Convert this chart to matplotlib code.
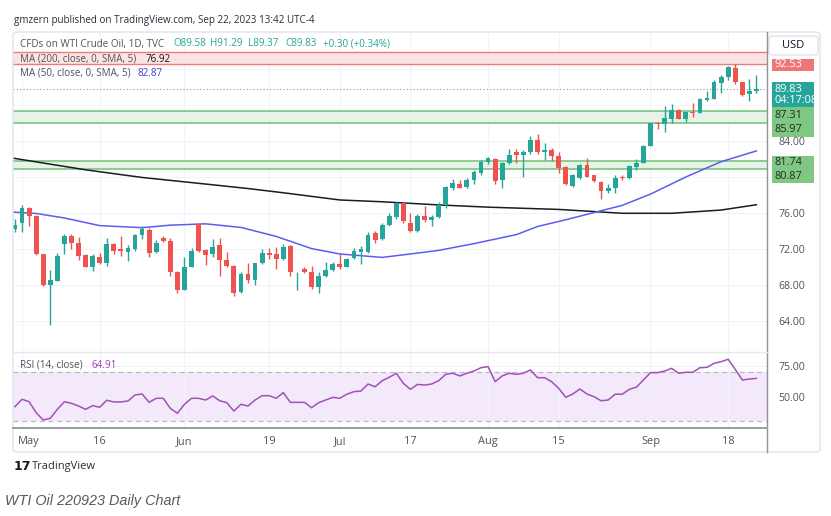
import numpy as np
import matplotlib.pyplot as plt
import matplotlib.transforms as mtransforms
from matplotlib.lines import Line2D
from matplotlib.patches import FancyBboxPatch, Rectangle

plt.rcParams['font.family'] = ['Open Sans', 'DejaVu Sans']

# daily candles, Apr 28 .. Sep 22 2023
opens = [74.22, 74.85, 76.6, 75.7, 71.4, 68.0, 68.5, 72.6, 73.45, 72.7,
         71.3, 70.0, 71.15, 70.5, 72.6, 71.95, 71.7, 72.0, 73.55, 74.1,
         71.7, 73.2, 72.9, 69.5, 67.45, 70.0, 74.8, 71.9, 71.4, 72.4,
         70.8, 70.15, 67.25, 69.2, 68.55, 70.4, 71.55, 71.4, 70.85, 72.35,
         69.4, 69.75, 69.4, 67.8, 69.05, 69.7, 70.3, 70.0, 70.95, 71.7,
         71.7, 73.75, 73.1, 74.7, 75.6, 77.1, 74.85, 74.0, 75.7, 75.2,
         75.6, 76.9, 78.75, 79.2, 78.85, 79.67, 80.5, 81.7, 81.97, 79.67,
         81.6, 82.75, 82.45, 82.75, 84.1, 82.75, 83.0, 82.35, 81.15, 79.0,
         79.85, 81.3, 80.2, 79.5, 78.45, 78.75, 80.05, 79.85, 81.15, 81.6,
         83.45, 86.05, 85.85, 86.5, 87.45, 86.5, 87.25, 87.15, 88.55, 88.67,
         90.4, 91.1, 92.1, 90.5, 89.2, 89.58]
highs = [75.3, 76.9, 76.7, 75.8, 71.5, 69.7, 71.6, 73.7, 73.7, 73.3,
         71.5, 71.5, 71.6, 73.2, 72.7, 73.4, 72.4, 73.7, 74.6, 74.3,
         73.0, 73.4, 73.2, 69.55, 71.1, 72.1, 74.9, 72.0, 73.1, 73.2,
         71.7, 70.2, 69.5, 70.4, 70.5, 72.0, 72.1, 72.25, 72.55, 72.45,
         69.5, 70.0, 70.1, 69.5, 70.6, 70.6, 71.5, 70.95, 72.1, 72.3,
         73.9, 74.05, 74.85, 75.95, 77.25, 77.25, 75.95, 75.85, 76.8, 75.8,
         77.25, 79.0, 79.75, 79.65, 79.85, 80.8, 81.9, 82.2, 82.1, 81.7,
         83.1, 83.1, 83.0, 84.6, 84.8, 83.75, 83.2, 82.8, 81.2, 80.3,
         81.45, 82.1, 80.2, 79.6, 79.2, 80.2, 80.2, 81.3, 82.0, 83.55,
         86.0, 86.15, 87.9, 88.1, 87.6, 87.25, 88.2, 88.75, 89.5, 90.8,
         91.35, 92.35, 92.55, 90.6, 90.85, 91.29]
lows = [73.9, 73.9, 74.55, 71.3, 67.9, 63.6, 68.45, 71.4, 72.0, 70.8,
        70.0, 69.6, 70.3, 70.1, 71.4, 71.2, 70.7, 71.8, 73.1, 71.1,
        71.6, 72.8, 69.0, 67.1, 67.4, 69.96, 71.7, 70.2, 71.15, 69.0,
        70.0, 66.8, 67.15, 68.2, 68.0, 70.3, 70.85, 69.75, 70.8, 69.0,
        67.4, 69.3, 67.6, 67.15, 68.9, 69.6, 69.75, 69.95, 70.85, 70.3,
        71.6, 72.7, 73.0, 74.55, 75.3, 74.85, 73.9, 73.9, 75.0, 74.55,
        75.5, 76.6, 78.55, 78.75, 78.75, 79.2, 80.2, 81.5, 79.2, 78.75,
        81.5, 81.6, 80.0, 82.6, 82.6, 81.9, 81.8, 80.4, 79.1, 78.9,
        79.75, 79.97, 79.5, 77.6, 78.2, 78.2, 79.65, 79.75, 80.8, 81.55,
        83.4, 85.3, 85.0, 85.95, 86.4, 86.1, 86.7, 87.1, 88.5, 88.65,
        89.3, 90.8, 90.35, 89.0, 88.4, 89.37]
closes = [74.67, 76.6, 75.7, 71.4, 68.0, 68.55, 71.2, 73.5, 72.7, 71.2,
          70.0, 71.2, 70.4, 72.6, 71.8, 71.75, 72.1, 73.6, 74.2, 71.6,
          72.7, 72.9, 69.4, 67.4, 70.0, 71.8, 71.8, 71.3, 72.25, 70.8,
          70.15, 67.15, 69.2, 68.55, 70.4, 71.6, 71.35, 70.85, 72.25, 69.4,
          69.45, 69.4, 67.8, 69.0, 69.7, 70.3, 69.95, 70.85, 71.8, 71.95,
          73.55, 73.0, 74.7, 75.7, 77.15, 75.15, 74.0, 75.7, 75.2, 75.6,
          76.9, 78.85, 79.3, 78.8, 79.67, 80.55, 81.7, 82.1, 79.55, 81.6,
          82.5, 82.45, 82.75, 84.1, 82.75, 83.0, 82.35, 80.95, 79.2, 80.2,
          81.3, 80.05, 79.55, 78.45, 78.75, 79.85, 79.85, 81.2, 81.6, 83.5,
          85.95, 85.85, 86.6, 87.5, 86.5, 87.2, 87.15, 88.65, 88.8, 90.6,
          91.15, 92.2, 90.5, 89.1, 89.5, 89.83]

rsi = [41.9, 47.9, 45.9, 37.0, 31.0, 32.4, 39.7, 45.9, 44.6, 42.4,
       39.7, 42.7, 41.4, 47.1, 45.7, 45.7, 46.5, 51.4, 52.2, 45.4,
       48.7, 48.7, 40.5, 36.5, 43.8, 48.7, 48.7, 47.3, 50.6, 46.7,
       45.1, 38.3, 43.8, 42.4, 47.3, 50.8, 50.8, 48.7, 53.3, 45.4,
       45.4, 45.4, 41.0, 45.1, 47.3, 49.5, 48.7, 52.0, 54.1, 54.6,
       60.3, 58.1, 63.0, 65.8, 69.1, 60.9, 56.0, 60.0, 59.5, 60.3,
       63.0, 68.2, 69.1, 66.9, 69.1, 70.9, 73.6, 74.5, 62.2, 66.9,
       69.1, 68.2, 69.1, 71.8, 65.5, 65.5, 62.2, 56.8, 49.5, 52.2,
       56.3, 52.2, 50.0, 46.7, 47.3, 52.0, 52.0, 56.0, 57.7, 63.6,
       69.6, 69.6, 70.9, 73.1, 69.1, 69.9, 69.9, 73.6, 73.9, 77.2,
       78.5, 80.5, 72.3, 63.6, 64.4, 64.91]

# moving averages, sampled at bar positions
ma200_pos = [-0.3, 10, 18, 26, 33, 38, 46, 52, 60, 67, 77, 86, 93, 100, 105]
ma200 = [82.1, 80.8, 79.95, 79.3, 78.72, 78.25, 77.45, 77.25, 76.9, 76.65,
         76.4, 75.97, 75.97, 76.33, 76.92]
ma50_pos = [-0.3, 3, 7, 12, 18, 22, 27, 32, 37, 42, 46, 52, 56, 60, 65, 71,
            74, 78, 86, 90, 95, 100, 105]
ma50 = [76.1, 75.95, 75.45, 74.6, 74.37, 74.65, 74.8, 74.4, 73.4, 72.05,
        71.45, 71.07, 71.45, 71.85, 72.6, 73.6, 74.5, 75.25, 76.85, 78.1,
        80.0, 81.7, 82.9]

date_pos = [1, 12, 24, 36, 46, 56, 67, 77, 90, 101]
date_labels = ['May', '16', 'Jun', '19', 'Jul', '17', 'Aug', '15', 'Sep', '18']
price_ticks = [64, 68, 72, 76, 80, 84, 88, 92]
price_labels = ['64.00', '68.00', '72.00', '76.00', '', '84.00', '', '']
green_zones = [(80.87, 81.74), (85.97, 87.31)]
red_zone = (92.53, 93.92)
last_close = 89.83

UP, DOWN = '#26a69a', '#ef5350'
GRID = '#f0f3fa'
AXIS_TXT = '#50535e'
FS = 7.6      # axis label size
LFS = 7.1     # legend size

W, H = 831, 516
fig = plt.figure(figsize=(W / 100, H / 100), dpi=100)


def fx(px):
    return px / W


def fy(py):
    return 1 - py / H


L, R, T, S, B = 13, 767, 32, 352, 428
ax = fig.add_axes([fx(L), fy(S), fx(R) - fx(L), fy(T) - fy(S)])
ax_r = fig.add_axes([fx(L), fy(B), fx(R) - fx(L), fy(S) - fy(B)], sharex=ax)

for a in (ax, ax_r):
    for sp in a.spines.values():
        sp.set_visible(False)
    a.set_xticks(date_pos)
    a.grid(True, color=GRID, lw=0.8)
    a.set_axisbelow(True)
    a.tick_params(length=0)
ax.set_xlim(-0.28, 106.5)
ax.set_ylim(60.56, 96.11)
ax_r.set_ylim(24.5, 86.4)

# price pane
ax.yaxis.tick_right()
ax.set_yticks(price_ticks, price_labels)
ax.tick_params(axis='y', pad=8, labelsize=FS, labelcolor=AXIS_TXT)
ax.tick_params(axis='x', labelbottom=False)

ax.axhspan(*red_zone, color='#fde4e4', lw=0, zorder=1)
for v in red_zone:
    ax.axhline(v, color='#f07a7a', lw=1, zorder=2)
for lo, hi in green_zones:
    ax.axhspan(lo, hi, color='#e6f4e7', lw=0, zorder=1)
    ax.axhline(lo, color='#7cc47f', lw=1.2, zorder=2)
    ax.axhline(hi, color='#7cc47f', lw=1.2, zorder=2)

ax.plot(ma200_pos, ma200, color='#1c1c1c', lw=1.1, zorder=2)
ax.plot(ma50_pos, ma50, color='#5d5cf0', lw=1.1, zorder=2)
ax.axhline(last_close, color='#7d9e9a', lw=0.8, ls=(0, (1, 2)), zorder=2)

o, h, l, c = map(np.array, (opens, highs, lows, closes))
x = np.arange(len(c))
col = np.where(c >= o, UP, DOWN)
ax.vlines(x, l, h, color=col, lw=1, zorder=3)
ax.bar(x, np.maximum(np.abs(c - o), 0.08), bottom=np.minimum(o, c), width=0.68,
       color=col, lw=0, zorder=4)

# price scale labels (boxes stacked so they do not overlap)
tr = mtransforms.blended_transform_factory(ax.transAxes, ax.transData)
tx = 1.0106
boxes = [
    (93.08, 91.81, '#ef7676', 'white', [(92.46, '92.53')]),
    (90.52, 87.81, '#26a69a', 'white', [(89.74, '89.83'), (88.5, '04:17:08')]),
    (87.74, 84.48, '#81c784', '#1f2d20', [(86.83, '87.31'), (85.33, '85.97')]),
    (82.37, 79.30, '#81c784', '#1f2d20', [(81.63, '81.74'), (80.06, '80.87')]),
]
for top, bot, fc, tc, items in boxes:
    ax.add_patch(Rectangle((1.0066, bot), 0.0557, top - bot, transform=tr,
                           fc=fc, ec='none', clip_on=False, zorder=8))
    for yv, s in items:
        ax.text(tx, yv, s, transform=tr, va='center', ha='left', fontsize=FS + 0.3,
                color=tc, fontweight='medium', zorder=9, clip_on=False)

# RSI pane
ax_r.axhspan(30, 70, color='#f4e8fb', lw=0, zorder=0)
ax_r.axhline(70, color='#b9b9c4', lw=0.9, ls=(0, (4, 3)))
ax_r.axhline(30, color='#b9b9c4', lw=0.9, ls=(0, (4, 3)))
ax_r.plot(x, rsi, color='#a052b5', lw=1.1)
ax_r.yaxis.tick_right()
ax_r.set_yticks([50, 75], ['50.00', '75.00'])
ax_r.tick_params(axis='y', pad=8, labelsize=FS, labelcolor=AXIS_TXT)
ax_r.set_xticklabels(date_labels)
ax_r.tick_params(axis='x', pad=6, labelsize=FS + 0.3, labelcolor=AXIS_TXT)
may = ax_r.get_xticklabels()[0]
may.set_transform(may.get_transform() + mtransforms.ScaledTranslation(0.07, 0, fig.dpi_scale_trans))

# frame lines
fig.add_artist(FancyBboxPatch((fx(13), fy(452)), fx(820) - fx(13), fy(32) - fy(452),
                              boxstyle='round,pad=0,rounding_size=0.006',
                              fc='none', ec='#e0e3eb', lw=1))
fig.add_artist(Line2D([fx(R), fx(R)], [fy(32), fy(452)], color='#8f929a', lw=1))
fig.add_artist(Line2D([fx(L), fx(R)], [fy(S), fy(S)], color='#e6e8ee', lw=1))
fig.add_artist(Line2D([fx(L), fx(R)], [fy(B), fy(B)], color='#9a9da5', lw=1.4))
fig.add_artist(FancyBboxPatch((fx(769), fy(55)), fx(818) - fx(769), fy(36) - fy(55),
                              boxstyle='round,pad=0,rounding_size=0.004',
                              fc='white', ec='#e0e3eb', lw=1))
fig.text(fx(793), fy(46), 'USD', ha='center', va='center', fontsize=8, color='#131722')

# legends
fig.text(fx(14), fy(21), 'gmzern published on TradingView.com, Sep 22, 2023 13:42 UTC-4',
         va='center', fontsize=LFS, color='#2a2e39')
LG = '#50535e'
fig.text(fx(20), fy(44), 'CFDs on WTI Crude Oil, 1D, TVC', va='center', fontsize=LFS, color=LG)
for px, s in [(173, 'O89.58'), (210, 'H91.29'), (248, 'L89.37'), (285, 'C89.83'),
              (323, '+0.30 (+0.34%)')]:
    fig.text(fx(px), fy(44), s, va='center', fontsize=LFS, color=UP)
fig.text(fx(20), fy(59), 'MA (200, close, 0, SMA, 5)', va='center', fontsize=LFS, color=LG)
fig.text(fx(146), fy(59), '76.92', va='center', fontsize=LFS, color='#131722')
fig.text(fx(20), fy(73), 'MA (50, close, 0, SMA, 5)', va='center', fontsize=LFS, color=LG)
fig.text(fx(138), fy(73), '82.87', va='center', fontsize=LFS, color='#4040d8')
fig.text(fx(20), fy(365), 'RSI (14, close)', va='center', fontsize=LFS, color=LG)
fig.text(fx(92), fy(365), '64.91', va='center', fontsize=LFS, color='#9c3fb0')

fig.text(fx(14), fy(466), '17', va='center', fontsize=9, fontweight='heavy',
         color='#131722', family='DejaVu Sans')
fig.text(fx(32), fy(466), 'TradingView', va='center', fontsize=8, color='#2a2e39')
fig.text(fx(5), fy(501), 'WTI Oil 220923 Daily Chart', va='center', fontsize=10.4,
         style='italic', color='#5a5a5a', family='Liberation Sans')

fig.savefig('out.png', dpi=100, facecolor='white')
